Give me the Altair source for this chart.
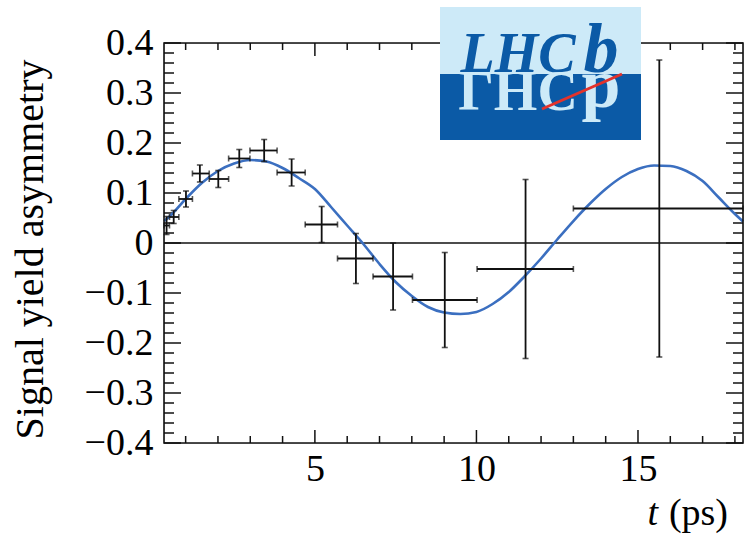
import altair as alt
import pandas as pd

W, H = 579, 400
FONT = "Liberation Serif"
BLACK = "#111111"
CURVE = "#3b6fc0"
LOGO_LIGHT = "#cdeaf8"
LOGO_DARK = "#0b5aa6"

# ---------------- data ----------------
t_center = [0.41, 0.63, 1.01, 1.44, 2.01, 2.66, 3.43, 4.28, 5.21, 6.27, 7.42, 9.02, 11.52, 15.66]
t_low    = [0.33, 0.50, 0.79, 1.21, 1.73, 2.33, 2.99, 3.83, 4.70, 5.70, 6.80, 8.02, 10.02, 13.00]
t_high   = [0.50, 0.79, 1.21, 1.73, 2.33, 2.99, 3.83, 4.70, 5.70, 6.80, 8.02, 10.02, 13.00, 18.25]
asym     = [0.035, 0.052, 0.088, 0.139, 0.128, 0.169, 0.185, 0.141, 0.037, -0.031, -0.067, -0.114, -0.052, 0.069]
asym_err = [0.018, 0.013, 0.016, 0.017, 0.017, 0.018, 0.022, 0.027, 0.036, 0.050, 0.067, 0.095, 0.179, 0.297]

curve_t = [0.33, 0.5, 1.0, 1.5, 2.0, 2.5, 3.0, 3.5, 4.0, 4.5, 5.0, 5.5, 6.0, 6.5, 7.0, 7.5,
           8.0, 8.5, 9.0, 9.5, 10.0, 10.5, 11.0, 11.5, 12.0, 12.5, 13.0, 13.5, 14.0, 14.5,
           15.0, 15.5, 16.0, 16.5, 17.0, 17.5, 18.0, 18.25]
curve_a = [0.044, 0.053, 0.088, 0.120, 0.144, 0.159, 0.166, 0.163, 0.150, 0.130, 0.108, 0.072,
           0.035, -0.002, -0.042, -0.078, -0.106, -0.128, -0.139, -0.142, -0.138, -0.122, -0.098,
           -0.066, -0.031, 0.007, 0.044, 0.078, 0.108, 0.132, 0.148, 0.155, 0.154, 0.144, 0.124,
           0.091, 0.058, 0.043]

x_domain = [0.33, 18.25]
y_domain = [-0.4, 0.4]
x_major = [5, 10, 15]
x_minor = [1, 2, 3, 4, 6, 7, 8, 9, 11, 12, 13, 14, 16, 17, 18]
y_major = [-0.4, -0.3, -0.2, -0.1, 0.0, 0.1, 0.2, 0.3, 0.4]
y_minor = [-0.38, -0.36, -0.34, -0.32, -0.28, -0.26, -0.24, -0.22, -0.18, -0.16, -0.14, -0.12,
           -0.08, -0.06, -0.04, -0.02, 0.02, 0.04, 0.06, 0.08, 0.12, 0.14, 0.16, 0.18,
           0.22, 0.24, 0.26, 0.28, 0.32, 0.34, 0.36, 0.38]
zero_line = [0.0]

y_title = "Signal yield asymmetry"
x_title_var = "t"
x_title_unit = "(ps)"
logo_main = "LHC"
logo_b = "b"
logo_main_reflect = "ΓHC"
logo_b_reflect = "p"

# ---------------- frames ----------------
pts = pd.DataFrame({"t": t_center, "tl": t_low, "th": t_high, "a": asym, "e": asym_err})
pts["lo"] = pts["a"] - pts["e"]
pts["hi"] = pts["a"] + pts["e"]
curve = pd.DataFrame({"t": curve_t, "a": curve_a})
one = pd.DataFrame({"k": [0]})

xs = alt.Scale(domain=x_domain, nice=False, zero=False)
ys = alt.Scale(domain=y_domain, nice=False, zero=False)

xax = alt.Axis(values=x_major, format="d", title=None, ticks=False, domain=False, grid=False,
               labelFont=FONT, labelFontSize=38, labelColor="black", labelPadding=7)
yax = alt.Axis(values=y_major, title=y_title, ticks=False, domain=False, grid=False,
               labelExpr="datum.value < 0 ? '\u2212' + format(-datum.value, '.1f') : format(datum.value, '.1~f')",
               labelFont=FONT, labelFontSize=38, labelColor="black", labelPadding=11,
               titleFont=FONT, titleFontSize=40, titleFontWeight="normal", titleColor="black",
               titleAngle=270, titleX=-122, titleY=206, titleAlign="center",
               titleBaseline="alphabetic")


def X(f):
    return alt.X(f, type="quantitative", scale=xs, axis=xax)


def Y(f):
    return alt.Y(f, type="quantitative", scale=ys, axis=yax)


layers = []

# zero line
layers.append(alt.Chart(pd.DataFrame({"z": zero_line})).mark_rule(color=BLACK, strokeWidth=1.6)
              .encode(y=Y("z")))

# axis ticks (pointing inward, on all four sides)
dxM = pd.DataFrame({"v": x_major})
dxm = pd.DataFrame({"v": x_minor})
dyM = pd.DataFrame({"v": y_major})
dym = pd.DataFrame({"v": y_minor})
tk = dict(color=BLACK, strokeWidth=1.5)
layers += [
    alt.Chart(dxM).mark_rule(**tk).encode(x=X("v"), y=alt.value(H), y2=alt.value(H - 13)),
    alt.Chart(dxm).mark_rule(**tk).encode(x=X("v"), y=alt.value(H), y2=alt.value(H - 7)),
    alt.Chart(dxM).mark_rule(**tk).encode(x=X("v"), y=alt.value(0), y2=alt.value(13)),
    alt.Chart(dxm).mark_rule(**tk).encode(x=X("v"), y=alt.value(0), y2=alt.value(7)),
    alt.Chart(dyM).mark_rule(**tk).encode(y=Y("v"), x=alt.value(0), x2=alt.value(17)),
    alt.Chart(dym).mark_rule(**tk).encode(y=Y("v"), x=alt.value(0), x2=alt.value(10)),
    alt.Chart(dyM).mark_rule(**tk).encode(y=Y("v"), x=alt.value(W), x2=alt.value(W - 17)),
    alt.Chart(dym).mark_rule(**tk).encode(y=Y("v"), x=alt.value(W), x2=alt.value(W - 10)),
]

# fit curve
layers.append(alt.Chart(curve).mark_line(color=CURVE, strokeWidth=2.6, interpolate="monotone")
              .encode(x=X("t"), y=Y("a")))

# error bars
eb = dict(color=BLACK, strokeWidth=1.8)
cap = dict(color=BLACK, size=6, thickness=1.6)
layers += [
    alt.Chart(pts).mark_rule(**eb).encode(x=X("t"), y=Y("lo"), y2="hi"),
    alt.Chart(pts).mark_rule(**eb).encode(x=X("tl"), x2="th", y=Y("a")),
    alt.Chart(pts).mark_tick(orient="horizontal", **cap).encode(x=X("t"), y=Y("lo")),
    alt.Chart(pts).mark_tick(orient="horizontal", **cap).encode(x=X("t"), y=Y("hi")),
    alt.Chart(pts).mark_tick(orient="vertical", **cap).encode(x=X("tl"), y=Y("a")),
    alt.Chart(pts).mark_tick(orient="vertical", **cap).encode(x=X("th"), y=Y("a")),
]

# frame
layers.append(alt.Chart(one).mark_rect(fillOpacity=0, stroke=BLACK, strokeWidth=1.6)
              .encode(x=alt.value(0), x2=alt.value(W), y=alt.value(0), y2=alt.value(H)))


def txt(s, x, y, size, color, style="normal", weight="normal", align="center"):
    return (alt.Chart(pd.DataFrame({"s": [s]}))
            .mark_text(font=FONT, fontSize=size, color=color, fontStyle=style, fontWeight=weight,
                       align=align, baseline="alphabetic")
            .encode(x=alt.value(x), y=alt.value(y), text="s:N"))


# x axis title
layers.append(txt(x_title_var, 494, 482, 38, "black", style="italic", align="right"))
layers.append(txt(x_title_unit, 564, 482, 38, "black", align="right"))

# LHCb logo
layers.append(alt.Chart(one).mark_rect(color=LOGO_LIGHT)
              .encode(x=alt.value(276), x2=alt.value(477), y=alt.value(-36), y2=alt.value(31)))
layers.append(alt.Chart(one).mark_rect(color=LOGO_DARK)
              .encode(x=alt.value(276), x2=alt.value(477), y=alt.value(31), y2=alt.value(97)))
layers.append(txt(logo_main, 354, 29, 56, LOGO_DARK, style="italic", weight="bold"))
layers.append(txt(logo_b, 437, 29, 70, LOGO_DARK, style="italic", weight="bold"))
layers.append(txt(logo_main_reflect, 354, 67, 56, LOGO_LIGHT, weight="bold"))
layers.append(txt(logo_b_reflect, 437, 64, 70, LOGO_LIGHT, weight="bold"))
layers.append(alt.Chart(one).mark_rule(color="#e3322b", strokeWidth=3)
              .encode(x=alt.value(378), x2=alt.value(458), y=alt.value(66), y2=alt.value(31)))

chart = (alt.layer(*layers)
         .properties(width=W, height=H,
                     autosize=alt.AutoSizeParams(type="none"),
                     padding={"left": 164, "top": 43, "right": 1, "bottom": 91})
         .configure_view(stroke="transparent")
         .configure(background="white"))

chart.save("out.html", embed_options={"renderer": "svg", "actions": False})
